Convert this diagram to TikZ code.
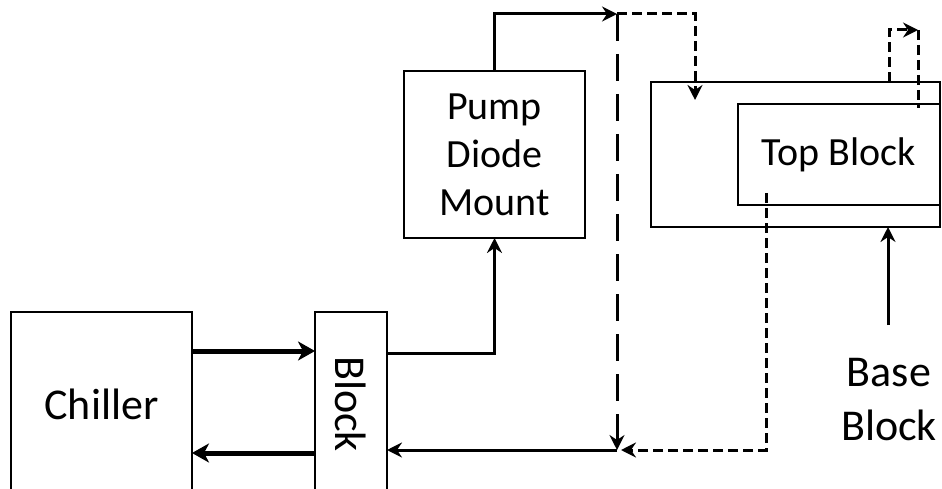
\documentclass[tikz,border=0pt]{standalone}
\usepackage{fontspec}
\setmainfont{Carlito}
\usetikzlibrary{arrows.meta,calc}
\tikzset{
  box/.style={draw,line width=2pt,inner sep=0pt,outer sep=0pt},
  conn/.style={line width=3pt,-{Stealth[length=15pt,width=15pt,inset=5pt]}},
  bigconn/.style={line width=5pt,-{Stealth[length=17pt,width=19pt,inset=5pt]}},
  sdash/.style={dash pattern=on 10pt off 5pt},
  ldash/.style={dash pattern=on 27pt off 13pt},
  bigfont/.style={font=\fontsize{44}{54}\selectfont},
  midfont/.style={font=\fontsize{40}{48}\selectfont},
}
\begin{document}
\begin{tikzpicture}[x=1pt,y=-1pt]
\useasboundingbox (0,0) rectangle (942,489);
\clip (0,0) rectangle (942,489);
% boxes
\node[box,minimum width=181pt,minimum height=184pt] (chiller) at (101.5,404) {};
\node[bigfont] (chillerlbl) at (101.5,404) {Chiller};
\node[box,minimum width=72pt,minimum height=184pt] (blk) at (351,404) {};
\node[bigfont,rotate=-90] (blklbl) at (351,404) {Block};
\node[box,midfont,align=center,minimum width=181pt,minimum height=167pt] (pump) at (494.5,154.5) {Pump\\Diode\\Mount};
\node[box,minimum width=289pt,minimum height=145pt] (outer) at (795.5,154.5) {};
\node[box,midfont,minimum width=202pt,minimum height=101pt] (top) at (839,154.5) {Top Block};
\node[bigfont,align=center] (base) at (889,400) {Base\\Block};
% coordinates
\coordinate (J) at (617,14);
\coordinate (K) at (617,450);
\coordinate (Ka) at (621,450);
\coordinate (D1) at (695,100);
\coordinate (T1) at (766,193);
\coordinate (T2) at (766,450);
\coordinate (L1) at (889,82);
\coordinate (L2) at (918,30);
\coordinate (L3) at (918,108);
\coordinate (B1) at (888,325);
% connectors
\draw[bigconn] (chiller.east |- 0,351) -- (blk.west |- 0,351);
\draw[bigconn] (blk.west |- 0,453) -- (chiller.east |- 0,453);
\draw[conn] (blk.east |- 0,353) -| (pump.south);
\draw[conn] (pump.north) |- (J);
\draw[conn,sdash] (J) -| (D1);
\draw[conn,ldash] (J) -- (K);
\draw[conn] (K) -- (blk.east |- K);
\draw[conn,sdash] (T1) |- (Ka);
\draw[conn,sdash] (outer.north -| L1) |- (L2);
\draw[line width=3pt,sdash] (L2) -- (L3);
\draw[conn] (B1) -- (outer.south -| B1);
\end{tikzpicture}
\end{document}
